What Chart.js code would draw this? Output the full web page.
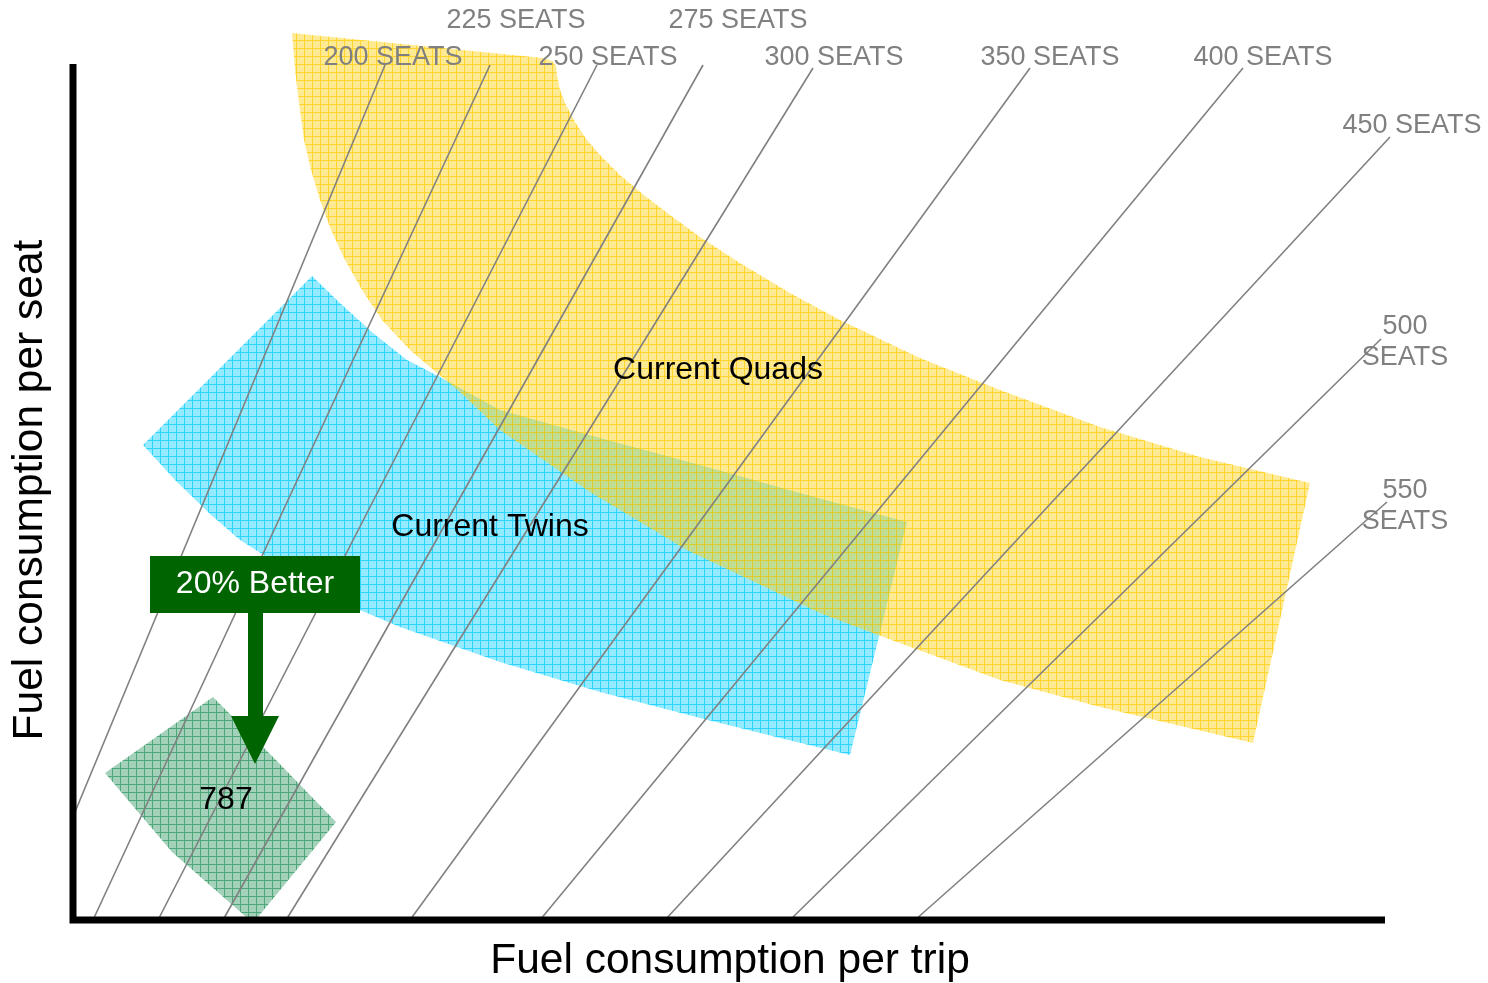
<!DOCTYPE html>
<html><head><meta charset="utf-8">
<script src="https://cdn.jsdelivr.net/npm/chart.js@4.4.1/dist/chart.umd.min.js"></script>
<style>html,body{margin:0;padding:0;background:#fff;overflow:hidden}#wrap{width:1488px;height:983px;position:relative}</style>
</head><body><div id="wrap"><canvas id="c"></canvas></div>
<script>
// ---- data (arbitrary units: fuel per trip on x, fuel per seat on y) ----
const seatCounts = [200, 225, 250, 275, 300, 350, 400, 450, 500, 550];
const seatLineTopX    = [312, 417, 524, 630, 740, 957, 1170, 1317, 1308, 1314];
const seatLineTopY    = [855, 855, 855, 855, 852, 852, 852, 783, 581, 418];
const seatLineBottomX = [2, 20, 85, 150, 213, 337, 467, 592, 717, 842];
const seatLineBottomY = [108, 0, 0, 0, 0, 0, 0, 0, 0, 0];

const quadsX = [219, 470, 479, 483, 484, 487, 493, 502, 514, 527, 547, 572, 597, 627, 667, 717, 767, 847, 927, 1027, 1127, 1237,
                1180, 1027, 927, 805, 747, 614, 517, 427, 387, 364, 337, 309, 289, 272, 258, 247, 238, 231, 226, 222];
const quadsY = [887, 862, 859, 854, 845, 830, 815, 798, 780, 765, 745, 724, 705, 683, 657, 627, 600, 562, 530, 493, 463, 437,
                177, 213, 240, 285, 307, 370, 428, 490, 528, 547, 570, 600, 630, 660, 690, 720, 750, 780, 817, 850];

const twinsX = [239, 267, 300, 334, 367, 427, 527, 627, 727, 834, 777, 707, 627, 527, 427, 327, 287, 227, 167, 137, 102, 70];
const twinsY = [644, 617, 587, 560, 543, 510, 482, 455, 427, 398, 165, 182, 202, 228, 258, 293, 310, 342, 380, 406, 440, 475];

const b787X = [140, 202, 263, 180, 99, 32];
const b787Y = [223, 161, 98, -3, 68, 147];

const regionLabels = ['Current Quads', 'Current Twins', '787'];
const calloutText = '20% Better';
const xAxisTitle = 'Fuel consumption per trip';
const yAxisTitle = 'Fuel consumption per seat';

// ---- annotation placement (data units) ----
const seatLabelAt = [[320,862],[443,899],[535,862],[665,899],[761,862],[977,862],[1190,862],[1339,794],[1332,578],[1332,414]];
const seatLabelWrap = [false,false,false,false,false,false,false,false,true,true];
const regionLabelAt = [[645,550],[417,393],[153,120]];

const pts = (xs, ys) => xs.map((x, i) => ({x, y: ys[i]}));

const ctx0 = document.getElementById('c').getContext('2d');
function gridPattern(rgb, fillA, lineA) {
  const c = document.createElement('canvas'); c.width = 8; c.height = 8;
  const g = c.getContext('2d');
  g.fillStyle = `rgba(${rgb},${fillA})`; g.fillRect(0, 0, 8, 8);
  g.fillStyle = `rgba(${rgb},${lineA})`; g.fillRect(0, 0, 8, 1); g.fillRect(0, 1, 1, 7);
  return ctx0.createPattern(c, 'repeat');
}
const yellowPat = gridPattern('255,204,0', 0.42, 0.7);
const cyanPat = gridPattern('0,204,255', 0.42, 0.7);
const greenPat = gridPattern('51,153,102', 0.45, 0.75);

const datasets = [];
datasets.push({ label: 'axes', data: [{x:0,y:856},{x:0,y:0},{x:1312,y:0}], borderColor: '#000', borderWidth: 7,
  borderJoinStyle: 'miter', borderCapStyle: 'butt', fill: false, pointRadius: 0, order: 0 });
seatCounts.forEach((s, i) => datasets.push({ label: s + ' seats',
  data: [{x: seatLineTopX[i], y: seatLineTopY[i]}, {x: seatLineBottomX[i], y: seatLineBottomY[i]}],
  borderColor: '#808080', borderWidth: 1.6, fill: false, pointRadius: 0, order: 1 }));
datasets.push({ label: 'Current Quads', data: pts(quadsX, quadsY), borderWidth: 0, borderColor: 'rgba(0,0,0,0)',
  backgroundColor: yellowPat, fill: 'shape', pointRadius: 0, order: 2 });
datasets.push({ label: 'Current Twins', data: pts(twinsX, twinsY), borderWidth: 0, borderColor: 'rgba(0,0,0,0)',
  backgroundColor: cyanPat, fill: 'shape', pointRadius: 0, order: 3 });
datasets.push({ label: '787', data: pts(b787X, b787Y), borderWidth: 0, borderColor: 'rgba(0,0,0,0)',
  backgroundColor: greenPat, fill: 'shape', pointRadius: 0, order: 3 });

const FONT = '"Liberation Sans", Arial, Helvetica, sans-serif';
const textPlugin = {
  id: 'texts',
  afterDatasetsDraw(chart) {
    const c = chart.ctx, sx = chart.scales.x, sy = chart.scales.y;
    const X = v => sx.getPixelForValue(v), Y = v => sy.getPixelForValue(v);
    c.save();
    c.textAlign = 'center'; c.textBaseline = 'middle';
    // seat labels
    c.fillStyle = '#808080'; c.font = '27px ' + FONT;
    seatCounts.forEach((s, i) => {
      const [lx, ly] = seatLabelAt[i];
      if (seatLabelWrap[i]) {
        c.fillText(String(s), X(lx), Y(ly) - 15.5);
        c.fillText('SEATS', X(lx), Y(ly) + 15.5);
      } else c.fillText(s + ' SEATS', X(lx), Y(ly));
    });
    // region labels
    c.fillStyle = '#000'; c.font = '32px ' + FONT;
    regionLabels.forEach((t, i) => c.fillText(t, X(regionLabelAt[i][0]), Y(regionLabelAt[i][1])));
    // callout box + arrow
    c.fillStyle = '#006400';
    c.fillRect(X(77), Y(364), X(287) - X(77), Y(307) - Y(364));
    c.fillRect(X(175), Y(308), X(190) - X(175), Y(203) - Y(308));
    c.beginPath(); c.moveTo(X(158), Y(204)); c.lineTo(X(206), Y(204)); c.lineTo(X(182), Y(156)); c.closePath(); c.fill();
    c.fillStyle = '#fff'; c.font = '32px ' + FONT;
    c.fillText(calloutText, X(182), Y(336));
    // axis titles
    c.fillStyle = '#000'; c.font = '42.5px ' + FONT;
    c.fillText(xAxisTitle, X(657), Y(-41));
    c.translate(X(-43), Y(430)); c.rotate(-Math.PI / 2);
    c.fillText(yAxisTitle, 0, 0);
    c.restore();
  }
};

new Chart(document.getElementById('c'), {
  type: 'line',
  data: { datasets },
  options: {
    responsive: true, maintainAspectRatio: false, animation: false, events: [],
    layout: { padding: 0 },
    plugins: { legend: { display: false }, tooltip: { enabled: false }, title: { display: false } },
    elements: { line: { tension: 0 } },
    scales: {
      x: { type: 'linear', min: -73, max: 1415, display: false },
      y: { type: 'linear', min: -63, max: 920, display: false }
    }
  },
  plugins: [textPlugin]
});
</script>
</body></html>
